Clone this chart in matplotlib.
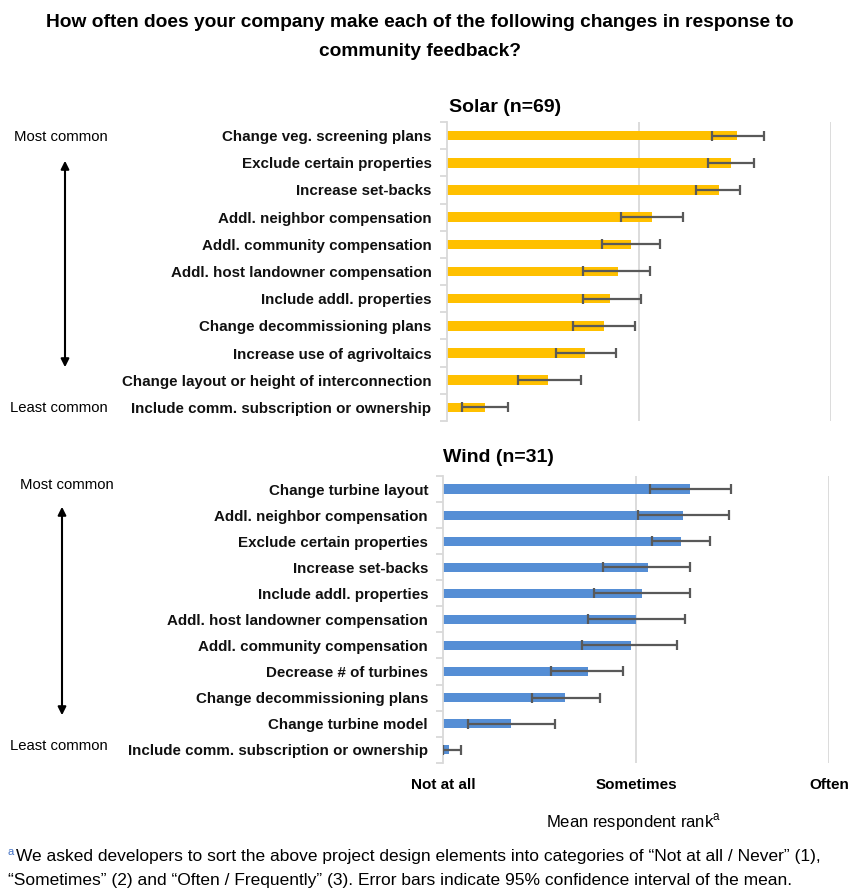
import numpy as np
import matplotlib
matplotlib.use("Agg")
import matplotlib.pyplot as plt

plt.rcParams['font.family'] = ['Liberation Sans', 'DejaVu Sans']

# data (mean rank, 95% CI bounds), top row first
solar_labels = ["Change veg. screening plans", "Exclude certain properties",
                "Increase set-backs", "Addl. neighbor compensation",
                "Addl. community compensation", "Addl. host landowner compensation",
                "Include addl. properties", "Change decommissioning plans",
                "Increase use of agrivoltaics", "Change layout or height of interconnection",
                "Include comm. subscription or ownership"]
solar_mean = [2.51, 2.48, 2.42, 2.07, 1.96, 1.89, 1.85, 1.82, 1.72, 1.53, 1.20]
solar_lo = [2.38, 2.36, 2.30, 1.91, 1.81, 1.71, 1.71, 1.66, 1.57, 1.37, 1.08]
solar_hi = [2.65, 2.60, 2.53, 2.23, 2.11, 2.06, 2.01, 1.98, 1.88, 1.70, 1.32]

wind_labels = ["Change turbine layout", "Addl. neighbor compensation",
               "Exclude certain properties", "Increase set-backs",
               "Include addl. properties", "Addl. host landowner compensation",
               "Addl. community compensation", "Decrease # of turbines",
               "Change decommissioning plans", "Change turbine model",
               "Include comm. subscription or ownership"]
wind_mean = [2.28, 2.24, 2.23, 2.06, 2.03, 2.00, 1.97, 1.75, 1.63, 1.35, 1.03]
wind_lo = [2.07, 2.01, 2.08, 1.83, 1.78, 1.75, 1.72, 1.56, 1.46, 1.13, 1.00]
wind_hi = [2.49, 2.48, 2.38, 2.28, 2.28, 2.25, 2.21, 1.93, 1.81, 1.58, 1.09]

rank_ticks = [1, 2, 3]
rank_labels = ["Not at all", "Sometimes", "Often"]

W, H = 857, 892
fig = plt.figure(figsize=(W / 100, H / 100), dpi=100)

def fx(x):
    return x / W

def fy(y):
    return 1 - y / H

def panel(rect, labels, mean, lo, hi, color):
    ax = fig.add_axes(rect)
    n = len(labels)
    y = np.arange(n)
    mean = np.array(mean)
    err = [mean - np.array(lo), np.array(hi) - mean]
    ax.barh(y, mean - 1, left=1, height=0.35, color=color, zorder=2)
    ax.errorbar(mean, y, xerr=err, fmt='none', ecolor='#595959', elinewidth=1.6,
                capsize=3.5, capthick=1.6, zorder=3)
    ax.set_xlim(1, 3)
    ax.set_ylim(n - 0.5, -0.5)
    for x in [2, 3]:
        ax.axvline(x, color='#d9d9d9', lw=1.3, zorder=1)
    for s in ['top', 'right', 'bottom']:
        ax.spines[s].set_visible(False)
    ax.spines['left'].set_color('#d9d9d9')
    ax.spines['left'].set_linewidth(1.3)
    ax.set_yticks(y)
    ax.set_yticklabels(labels, fontsize=10.9, fontweight='bold', color='#111111')
    ax.tick_params(axis='y', length=0, pad=11)
    ax.set_yticks(np.arange(n + 1) - 0.5, minor=True)
    ax.tick_params(axis='y', which='minor', length=5, color='#d9d9d9', width=1.3)
    return ax

ax1 = panel([fx(446.7), fy(421), fx(830.7) - fx(446.7), (421 - 122) / H],
            solar_labels, solar_mean, solar_lo, solar_hi, '#FFC000')
ax1.set_xticks([])

ax2 = panel([fx(443.3), fy(762.7), fx(829.3) - fx(443.3), (762.7 - 476) / H],
            wind_labels, wind_mean, wind_lo, wind_hi, '#558ED5')
ax2.set_xticks(rank_ticks)
ax2.set_xticklabels(rank_labels, fontsize=11, fontweight='bold')
ax2.tick_params(axis='x', length=0, pad=11)

fig.text(fx(420), fy(37), "How often does your company make each of the following changes in response to\ncommunity feedback?",
         ha='center', va='center', fontsize=13.8, fontweight='bold', linespacing=1.9)
fig.text(fx(449), fy(108), "Solar (n=69)", ha='left', va='center', fontsize=14, fontweight='bold')
fig.text(fx(443), fy(457), "Wind (n=31)", ha='left', va='center', fontsize=14, fontweight='bold')

for (x, y, t) in [(14, 137, "Most common"), (10, 408, "Least common"),
                  (20, 485, "Most common"), (10, 746, "Least common")]:
    fig.text(fx(x), fy(y), t, ha='left', va='center', fontsize=10.7)

for (x, y0, y1) in [(65, 158, 370), (62, 504, 718)]:
    fig.add_artist(matplotlib.patches.FancyArrowPatch(
        (fx(x), fy(y0)), (fx(x), fy(y1)), transform=fig.transFigure,
        arrowstyle='<|-|>', mutation_scale=12, lw=1.5, color='black'))

fig.text(fx(634), fy(822), "Mean respondent rank$^{\\mathregular{a}}$", ha='center', va='center', fontsize=12)

fig.text(fx(8), fy(852), "a", ha='left', va='center', fontsize=8, color='#4472C4')
fig.text(fx(16), fy(857), "We asked developers to sort the above project design elements into categories of \u201cNot at all / Never\u201d (1),",
         ha='left', va='center', fontsize=12.5)
fig.text(fx(8), fy(880), "\u201cSometimes\u201d (2) and \u201cOften / Frequently\u201d (3). Error bars indicate 95% confidence interval of the mean.",
         ha='left', va='center', fontsize=12.5)

fig.savefig("out.png", dpi=100)
